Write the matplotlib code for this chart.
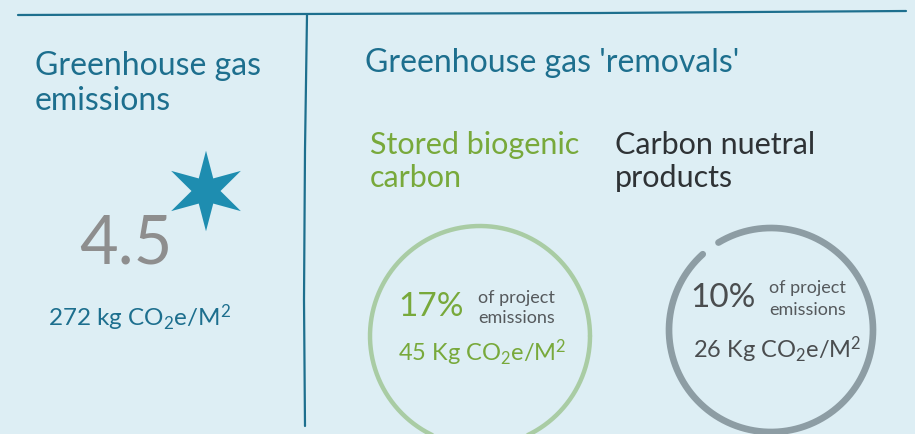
import numpy as np
import matplotlib.pyplot as plt
from matplotlib.path import Path

plt.rcParams['font.family'] = ['Lato', 'DejaVu Sans']
plt.rcParams['mathtext.fontset'] = 'custom'
plt.rcParams['mathtext.rm'] = 'Lato'
plt.rcParams['mathtext.it'] = 'Lato'

star_rating = 4.5
emissions_kg = 272
removal_titles = ['Stored biogenic\ncarbon', 'Carbon nuetral\nproducts']
removal_pct = [17, 10]
removal_kg = [45, 26]

teal = '#1d6f8e'
green = '#78a93b'
dark = '#2e3235'
bg = '#ddeef4'

fig = plt.figure(figsize=(9.15, 4.34), dpi=100)
fig.patch.set_facecolor(bg)
ax = fig.add_axes([0, 0, 1, 1])
ax.set_facecolor(bg)
ax.set_xlim(0, 915)
ax.set_ylim(434, 0)
ax.axis('off')

# frame lines
ax.plot([18, 300, 600, 906], [15, 14, 13, 11], color=teal, lw=1.6, solid_capstyle='round')
ax.plot([307, 305, 304, 305], [15, 150, 300, 426], color=teal, lw=1.6, solid_capstyle='round')

# left panel
ax.text(35, 66, 'Greenhouse gas', color=teal, fontsize=23, va='center')
ax.text(35, 101, 'emissions', color=teal, fontsize=23, va='center')
ax.text(126, 244, f'{star_rating}', color='#8e8e8e', fontsize=48, ha='center', va='center')

# six-armed star
ang = np.pi / 2 + np.arange(13) * np.pi / 6
rad = np.where(np.arange(13) % 2 == 0, 1.0, 0.36)
star = Path(np.column_stack([rad * np.cos(ang), rad * np.sin(ang)]), closed=True)
ax.scatter([206], [191], marker=star, s=58**2, color='#1e8db0', edgecolors='none')
ax.text(48, 318, rf'{emissions_kg} kg CO$_2$e/M$^2$', color=teal, fontsize=17.5, va='center')

# right panel
ax.text(365, 63, "Greenhouse gas 'removals'", color=teal, fontsize=23, va='center')

centers = [(480, 336), (771, 330)]
radii = [110, 102]
ring_colors = ['#a9cca4', '#8d9da4']
ring_widths = [3.2, 4.8]
ring_span = [(0, 360), (132, 121 + 360)]   # drawn from..to, degrees (gap between)
title_x = [370, 615]
title_colors = [green, dark]
pct_colors = [green, '#4a4d4f']
pct_x = [398, 690]
pct_y = [307, 298]
note_x = [478, 769]
note_y = [(298, 318), (288, 310)]
kg_x = [398, 693]
kg_y = [353, 350]

for i in range(2):
    cx, cy = centers[i]
    r = radii[i]
    lines = removal_titles[i].split('\n')
    ax.text(title_x[i], 145, lines[0], color=title_colors[i], fontsize=22, va='center')
    ax.text(title_x[i], 178, lines[1], color=title_colors[i], fontsize=22, va='center')

    t = np.radians(np.linspace(ring_span[i][0], ring_span[i][1], 400))
    ax.plot(cx + r * np.cos(t), cy - r * np.sin(t), color=ring_colors[i],
            lw=ring_widths[i], solid_capstyle='round')

    ax.text(pct_x[i], pct_y[i], f'{removal_pct[i]}%', color=pct_colors[i],
            fontsize=24, va='center', ha='left')
    ax.text(note_x[i], note_y[i][0], 'of project', color='#55595c', fontsize=13,
            va='center', ha='left')
    ax.text(note_x[i], note_y[i][1], 'emissions', color='#55595c', fontsize=13,
            va='center', ha='left')
    ax.text(kg_x[i], kg_y[i], rf'{removal_kg[i]} Kg CO$_2$e/M$^2$',
            color=pct_colors[i], fontsize=17, va='center', ha='left')

fig.savefig('out.png', dpi=100, facecolor=bg)
